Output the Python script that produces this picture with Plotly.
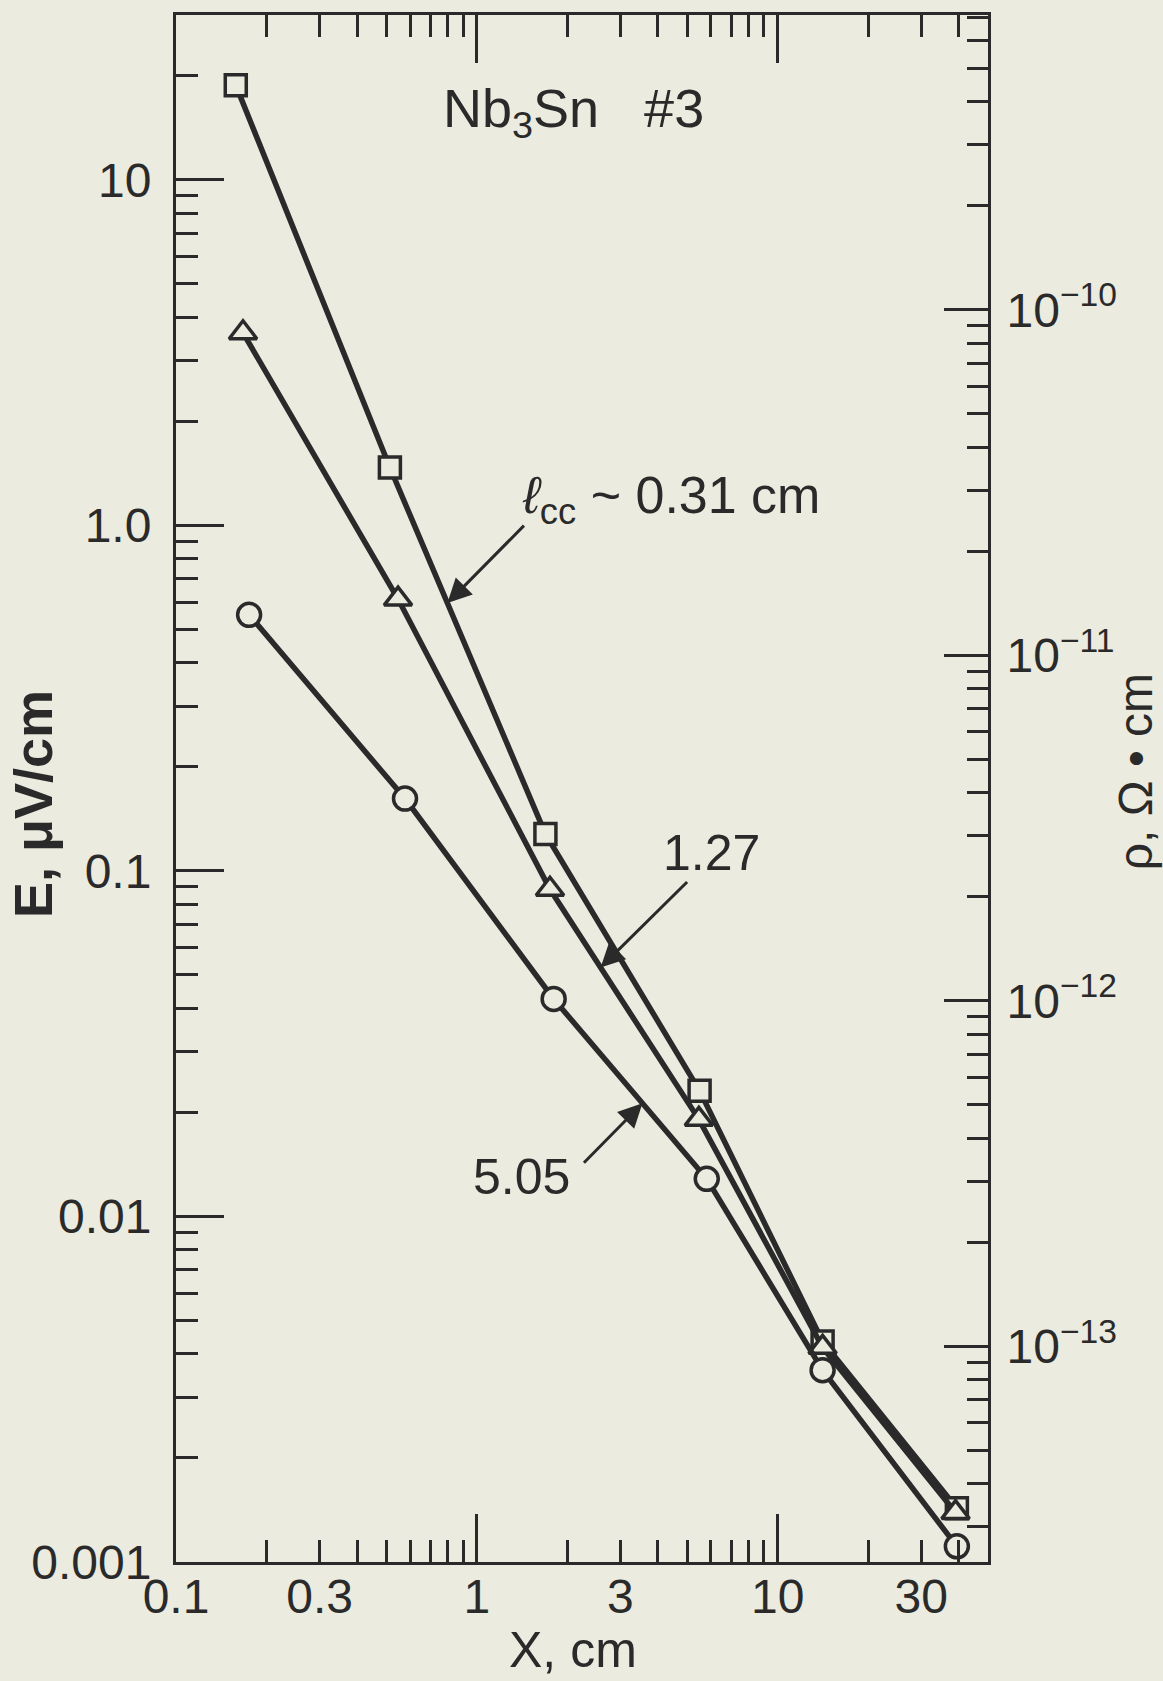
import numpy as np
import plotly.graph_objects as go

# ---- data ----
# X, cm  and  E, uV/cm for three current-contact spacings l_cc
x_square = [0.158, 0.514, 1.69, 5.5, 14.1, 39.4]      # l_cc ~ 0.31 cm
E_square = [18.8, 1.47, 0.128, 0.0231, 0.00435, 0.00143]
x_triangle = [0.167, 0.547, 1.75, 5.47, 14.1, 39.0]   # l_cc = 1.27 cm
E_triangle = [3.61, 0.612, 0.0885, 0.0191, 0.00418, 0.00139]
x_circle = [0.175, 0.577, 1.80, 5.81, 14.1, 39.4]     # l_cc = 5.05 cm
E_circle = [0.551, 0.162, 0.0426, 0.01285, 0.00359, 0.00111]

# right axis: rho = E / J  (E in uV/cm -> rho in ohm*cm)
E_per_rho = 4.21e10

x_tick_vals = [0.1, 0.3, 1, 3, 10, 30]
x_tick_text = ["0.1", "0.3", "1", "3", "10", "30"]
y_tick_vals = [0.001, 0.01, 0.1, 1, 10]
y_tick_text = ["0.001", "0.01", "0.1", "1.0", "10"]
rho_tick_vals = [1e-13, 1e-12, 1e-11, 1e-10]
rho_tick_text = ["10<sup>\u2212" + str(k) + "</sup>" for k in (13, 12, 11, 10)]

x_range = [np.log10(0.1), np.log10(50)]
y_range = [np.log10(0.001), np.log10(30)]
rho_range = [v - np.log10(E_per_rho) for v in y_range]

BG = "#ebebdf"
INK = "#2a2a2a"
FONT = "Liberation Sans"
FS = 48

x_minor = [m * 10.0 ** k for k in (-1, 0, 1) for m in range(2, 10)]
x_minor = [v for v in x_minor if v not in x_tick_vals and v < 50]
y_minor = [m * 10.0 ** k for k in (-3, -2, -1, 0, 1) for m in range(2, 10)]
y_minor = [v for v in y_minor if v < 30]
rho_minor = [m * 10.0 ** k for k in (-14, -13, -12, -11, -10) for m in range(2, 10)]
rho_minor = [v for v in rho_minor if 10 ** rho_range[0] < v < 10 ** rho_range[1]]

fig = go.Figure()
series = [
    (x_square, E_square, "square", 21),
    (x_triangle, E_triangle, "triangle-up", 24),
    (x_circle, E_circle, "circle", 23),
]
for xs, ys, sym, size in series:
    fig.add_trace(go.Scatter(
        x=xs, y=ys, mode="lines+markers",
        line=dict(color=INK, width=5.5),
        marker=dict(symbol=sym, size=size, color=BG, line=dict(color=INK, width=3.5)),
        showlegend=False, cliponaxis=False, hoverinfo="skip",
    ))

# invisible trace so the secondary (rho) axes are drawn
fig.add_trace(go.Scatter(
    x=[1], y=[1e-11], xaxis="x2", yaxis="y2", mode="markers",
    marker=dict(opacity=0), showlegend=False, hoverinfo="skip",
))

common = dict(type="log", showgrid=False, zeroline=False, linecolor=INK, linewidth=3,
              tickcolor=INK, tickwidth=3, ticks="inside",
              tickfont=dict(family=FONT, size=FS, color=INK))

fig.update_layout(
    width=1163, height=1681,
    margin=dict(l=176, r=175, t=13, b=119),
    paper_bgcolor=BG, plot_bgcolor=BG,
    font=dict(family=FONT, size=FS, color=INK),
    xaxis=dict(**common, range=x_range, tickvals=x_tick_vals, ticktext=x_tick_text,
               ticklen=22, showline=True, mirror="ticks", ticklabelstandoff=-10,
               minor=dict(tickvals=x_minor, ticks="inside", ticklen=22, tickcolor=INK, tickwidth=3)),
    xaxis2=dict(**common, range=x_range, overlaying="x", anchor="y", side="bottom",
                tickvals=[1, 10], ticklen=48, showticklabels=False, showline=True, mirror="ticks"),
    yaxis=dict(**common, range=y_range, tickvals=y_tick_vals, ticktext=y_tick_text,
               ticklen=48, showline=True, mirror=False, ticklabelstandoff=12,
               minor=dict(tickvals=y_minor, ticks="inside", ticklen=22, tickcolor=INK, tickwidth=3)),
    yaxis2=dict(**common, range=rho_range, overlaying="y", anchor="x2", side="right",
                tickvals=rho_tick_vals, ticktext=rho_tick_text, ticklen=44, showline=True,
                ticklabelstandoff=6,
                minor=dict(tickvals=rho_minor, ticks="inside", ticklen=21, tickcolor=INK, tickwidth=3)),
)


def on_segment(xs, ys, i, t):
    lx = np.log10(xs[i]) + t * (np.log10(xs[i + 1]) - np.log10(xs[i]))
    ly = np.log10(ys[i]) + t * (np.log10(ys[i + 1]) - np.log10(ys[i]))
    return lx, ly


arrows = [
    (x_square, E_square, 1, 0.37, 78, -79),
    (x_triangle, E_triangle, 2, 0.34, 88, -87),
    (x_circle, E_circle, 2, 0.58, -60, 61),
]
for xs, ys, i, t, ax, ay in arrows:
    lx, ly = on_segment(xs, ys, i, t)
    fig.add_annotation(x=lx, y=ly, xref="x", yref="y", text="", showarrow=True,
                       ax=ax, ay=ay, axref="pixel", ayref="pixel",
                       arrowhead=2, arrowsize=1.6, arrowwidth=3, arrowcolor=INK, standoff=0)

labels = [
    ("Nb<sub>3</sub>Sn   #3", 0.490, 0.937, "center", 0, 54, "normal"),
    ("<i>\u2113</i><sub>cc</sub> ~ 0.31 cm", 0.424, 0.687, "left", 0, 52, "normal"),
    ("1.27", 0.660, 0.458, "center", 0, 50, "normal"),
    ("5.05", 0.425, 0.2486, "center", 0, 50, "normal"),
    ("E, \u03bcV/cm", -0.176, 0.49, "center", -90, 54, "bold"),
    ("\u03c1, \u03a9 \u2022 cm", 1.182, 0.511, "center", -90, 48, "normal"),
    ("X, cm", 0.489, -0.057, "center", 0, 50, "normal"),
]
for text, px, py, xa, ang, size, weight in labels:
    fig.add_annotation(x=px, y=py, xref="paper", yref="paper", text=text, showarrow=False,
                       xanchor=xa, yanchor="middle", textangle=ang,
                       font=dict(family=FONT, size=size, color=INK, weight=weight))

fig.write_html("out.html")
